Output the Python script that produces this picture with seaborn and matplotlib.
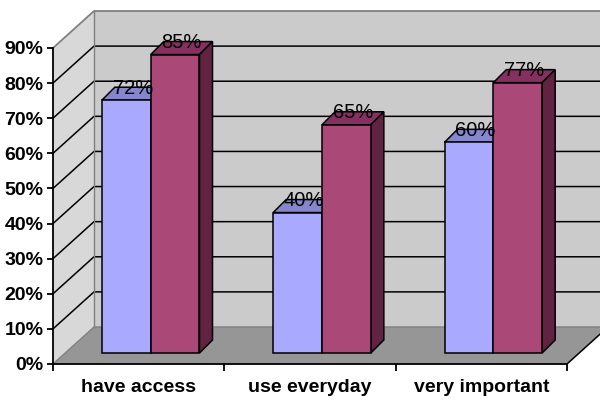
import matplotlib
matplotlib.use("Agg")
import matplotlib.pyplot as plt
from matplotlib.patches import Polygon
from matplotlib.lines import Line2D
from matplotlib.transforms import Affine2D, IdentityTransform
import numpy as np
import pandas as pd
import seaborn as sns

categories = ["have access", "use everyday", "very important"]
series_1 = [72, 40, 60]
series_2 = [85, 65, 77]
yticks = [0, 10, 20, 30, 40, 50, 60, 70, 80, 90]
ytick_labels = ["0%", "10%", "20%", "30%", "40%", "50%", "60%", "70%", "80%", "90%"]

df = pd.DataFrame({
    "category": categories * 2,
    "group": ["Series 1"] * 3 + ["Series 2"] * 3,
    "value": series_1 + series_2,
})

plt.rcParams["font.family"] = ["Liberation Sans Narrow", "Liberation Sans", "DejaVu Sans"]

front_col = ["#a9a9ff", "#aa4878"]
top_col = ["#8686cc", "#86305f"]
side_col = ["#6c6cb0", "#602442"]

# pixel offsets of the fake depth (oblique projection)
fr = np.array([12, 11])    # bar front plane
bk = np.array([25, 24])    # bar back plane
wall = np.array([41, 37])  # back wall

fig = plt.figure(figsize=(6, 4), dpi=100)
ax = fig.add_axes([53 / 600, 36 / 400, 514 / 600, 316 / 400])

sns.barplot(data=df, x="category", y="value", hue="group", palette=front_col,
            saturation=1, width=0.57, edgecolor="black", linewidth=1.1,
            legend=False, ax=ax)

ax.set_xlim(-0.5, 2.5)
ax.set_ylim(0, 90)
ax.patch.set_visible(False)
ax.grid(False)

T = ax.transData.transform
ident = IdentityTransform()


def poly(pts, color, z, ec="none", lw=0):
    p = Polygon(pts, closed=True, facecolor=color, edgecolor=ec, linewidth=lw,
                transform=ident, zorder=z, clip_on=False)
    ax.add_artist(p)


def line(pts, color, lw, z):
    pts = np.array(pts)
    ax.add_artist(Line2D(pts[:, 0], pts[:, 1], color=color, linewidth=lw,
                         transform=ident, zorder=z, clip_on=False))


x0, x1 = ax.get_xlim()
f00, f10, f01, f11 = T((x0, 0)), T((x1, 0)), T((x0, 90)), T((x1, 90))

# floor, left wall, back wall
poly([f00, f10, f10 + wall, f00 + wall], "#969696", 0.1)
poly([f00, f01, f01 + wall, f00 + wall], "#d8d8d8", 0.1)
poly([f00 + wall, f10 + wall, f11 + wall, f01 + wall], "#cbcbcb", 0.1)

# gridlines over the walls
for t in yticks[1:-1]:
    a, b = T((x0, t)), T((x1, t))
    line([a, a + wall, b + wall], "black", 1.1, 0.3)

# wall borders
line([f00, f00 + wall, f10 + wall], "#808080", 1.0, 0.35)
line([f01, f01 + wall, f11 + wall], "#808080", 1.3, 0.35)
line([f00 + wall, f01 + wall], "#808080", 1.0, 0.35)
line([f10, f10 + wall], "black", 1.1, 0.35)

# 3d bars: front from seaborn, top and side derived from it
bars = []
for i, cont in enumerate(ax.containers):
    for bar in cont:
        bars.append((bar.get_x(), i, bar))
bars.sort(key=lambda b: b[0])

for k, (_, i, bar) in enumerate(bars):
    z = 2 + k * 0.1
    bx, bw, bh = bar.get_x(), bar.get_width(), bar.get_height()
    bl, br, tr, tl = T((bx, 0)), T((bx + bw, 0)), T((bx + bw, bh)), T((bx, bh))
    poly([tl + fr, tr + fr, tr + bk, tl + bk], top_col[i], z, "black", 1.1)
    poly([br + fr, tr + fr, tr + bk, br + bk], side_col[i], z, "black", 1.1)
    bar.set_transform(ax.transData + Affine2D().translate(*fr))
    bar.set_zorder(z + 0.05)
    bar.set_clip_on(False)
    lab_off = fr + (bk - fr) / 2
    ax.annotate(f"{int(bh)}%", xy=(bx + bw / 2, bh), xytext=(lab_off[0], lab_off[1]),
                textcoords="offset pixels", ha="center", va="baseline",
                fontsize=14.5, color="black", zorder=10)

# axes
for s in ["top", "right"]:
    ax.spines[s].set_visible(False)
for s in ["left", "bottom"]:
    ax.spines[s].set_color("black")
    ax.spines[s].set_linewidth(1.3)
    ax.spines[s].set_zorder(5)

ax.set_yticks(yticks)
ax.set_yticklabels(ytick_labels, fontweight="bold", fontsize=14)
ax.tick_params(axis="y", direction="out", length=4, width=1.3, pad=3, color="black")
ax.set_xticks([0, 1, 2])
ax.set_xticklabels(categories, fontweight="bold", fontsize=14)
ax.set_xticks([-0.5, 0.5, 1.5, 2.5], minor=True)
ax.tick_params(axis="x", which="major", length=0, pad=11)
ax.tick_params(axis="x", which="minor", direction="out", length=5, width=1.3, color="black")
ax.set_xlabel("")
ax.set_ylabel("")

fig.savefig("out.png", dpi=100, facecolor="white")
